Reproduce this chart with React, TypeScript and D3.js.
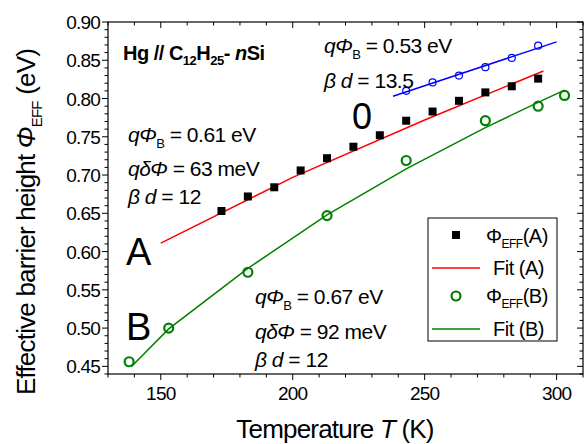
import * as d3 from "d3";

const tA = [173, 183, 193, 203, 213, 223, 233, 243, 253, 263, 273, 283, 293];
const phiA = [0.653, 0.672, 0.684, 0.706, 0.722, 0.737, 0.752, 0.771, 0.783, 0.797, 0.808, 0.816, 0.826];
const fitAT = [150, 200, 250, 295];
const fitA = [0.611, 0.697, 0.772, 0.836];
const tB = [138, 153, 183, 213, 243, 273, 293, 303];
const phiB = [0.456, 0.5, 0.573, 0.647, 0.719, 0.771, 0.79, 0.804];
const fitBT = [139, 153, 183, 213, 243, 273, 293, 303];
const fitB = [0.45, 0.499, 0.578, 0.648, 0.708, 0.762, 0.795, 0.811];
const tO = [243, 253, 263, 273, 283, 293];
const phiO = [0.81, 0.821, 0.83, 0.841, 0.853, 0.869];
const fitOT = [238, 300];
const fitO = [0.803, 0.874];
const xTicks = [150, 200, 250, 300];
const yTicks = [0.45, 0.5, 0.55, 0.6, 0.65, 0.7, 0.75, 0.8, 0.85, 0.9];

const L = 108, R = 583, T = 22, B = 374;
const x = d3.scaleLinear().domain([130, 310]).range([L, R]);
const y = d3.scaleLinear().domain([0.44, 0.9]).range([B, T]);
const line = d3.line<[number, number]>().x((d) => x(d[0])).y((d) => y(d[1]));
const zip = (a: number[], b: number[]) => a.map((v, i) => [v, b[i]] as [number, number]);
const F = "Arial, 'Liberation Sans', sans-serif";

function Phi({ x0, y0, rest, sub = "B", delta = false }: any) {
  return (
    <text x={x0} y={y0} fontSize={21} fontFamily={F} letterSpacing={-0.5}>
      <tspan fontStyle="italic">{delta ? "qδΦ" : "qΦ"}</tspan>
      {!delta && <tspan fontSize={13} dy={6}>{sub}</tspan>}
      <tspan dy={delta ? 0 : -6}>{rest}</tspan>
    </text>
  );
}
function Bd({ x0, y0, v }: any) {
  return (
    <text x={x0} y={y0} fontSize={21} fontFamily={F} letterSpacing={-0.5}>
      <tspan fontStyle="italic">β d</tspan> = {v}
    </text>
  );
}

export default function App() {
  const minorX = d3.range(130, 311, 10);
  const minorY = d3.range(44, 91).map((v) => v / 100);
  return (
    <svg width={584} height={444} style={{ position: "absolute", left: 0, top: 0 }}>
      <rect x={L} y={T} width={R - L} height={B - T} fill="none" stroke="#000" strokeWidth={1.2} />
      {minorX.map((v) => {
        const major = v % 50 === 0;
        const len = major ? 6 : 3.5;
        return (
          <g key={v}>
            <line x1={x(v)} x2={x(v)} y1={B} y2={B + len} stroke="#000" />
            <line x1={x(v)} x2={x(v)} y1={T} y2={T + len} stroke="#000" />
          </g>
        );
      })}
      {minorY.map((v, i) => {
        const major = Math.round(v * 100) % 5 === 0;
        const len = major ? 6 : 3.5;
        return (
          <g key={i}>
            <line x1={L - len} x2={L} y1={y(v)} y2={y(v)} stroke="#000" />
            <line x1={R - len} x2={R} y1={y(v)} y2={y(v)} stroke="#000" />
          </g>
        );
      })}
      {xTicks.map((v) => (
        <text key={v} x={x(v)} y={B + 26} textAnchor="middle" fontSize={19} letterSpacing={-0.8} fontFamily={F}>{v}</text>
      ))}
      {yTicks.map((v) => (
        <text key={v} x={L - 8} y={y(v) + 7} textAnchor="end" fontSize={19} letterSpacing={-0.8} fontFamily={F}>{v.toFixed(2)}</text>
      ))}
      <text x={335} y={438} textAnchor="middle" fontSize={26} letterSpacing={-0.8} fontFamily={F}>
        Temperature <tspan fontStyle="italic">T</tspan>  (K)
      </text>
      <text transform="translate(35,222) rotate(-90)" textAnchor="middle" fontSize={26} letterSpacing={-0.8} fontFamily={F}>
        Effective barrier height <tspan fontStyle="italic">Φ</tspan>
        <tspan fontSize={15} dy={7}>EFF</tspan>
        <tspan dy={-7}> (eV)</tspan>
      </text>

      <path d={line(zip(fitAT, fitA)) as string} fill="none" stroke="#ff0000" strokeWidth={1.5} />
      <path d={line(zip(fitBT, fitB)) as string} fill="none" stroke="#008000" strokeWidth={1.5} />
      <path d={line(zip(fitOT, fitO)) as string} fill="none" stroke="#0000ff" strokeWidth={1.5} />
      {zip(tA, phiA).map((d, i) => (
        <rect key={i} x={x(d[0]) - 4} y={y(d[1]) - 4} width={8} height={8} fill="#000" />
      ))}
      {zip(tB, phiB).map((d, i) => (
        <circle key={i} cx={x(d[0])} cy={y(d[1])} r={4.5} fill="none" stroke="#008000" strokeWidth={2.2} />
      ))}
      {zip(tO, phiO).map((d, i) => (
        <circle key={i} cx={x(d[0])} cy={y(d[1])} r={3.5} fill="none" stroke="#0000ff" strokeWidth={1.2} />
      ))}

      <text x={123} y={60} fontSize={20} fontWeight="bold" letterSpacing={-0.5} fontFamily={F}>
        Hg // C<tspan fontSize={13} dy={5}>12</tspan><tspan dy={-5}>H</tspan>
        <tspan fontSize={13} dy={5}>25</tspan><tspan dy={-5}>- </tspan>
        <tspan fontStyle="italic">n</tspan>Si
      </text>
      <Phi x0={324} y0={53} rest=" = 0.53 eV" />
      <Bd x0={324} y0={88} v="13.5" />
      <text x={352} y={129} fontSize={36} fontFamily={F}>0</text>
      <Phi x0={128} y0={142} rest=" = 0.61 eV" />
      <Phi x0={128} y0={176} rest=" =  63 meV" delta />
      <Bd x0={128} y0={204} v="12" />
      <text x={126} y={265} fontSize={38} fontFamily={F}>A</text>
      <text x={126} y={340} fontSize={38} fontFamily={F}>B</text>
      <Phi x0={255} y0={304} rest=" = 0.67 eV" />
      <Phi x0={255} y0={339} rest=" =  92 meV" delta />
      <Bd x0={255} y0={367} v="12" />

      <g fontFamily={F} fontSize={20} letterSpacing={-0.5}>
        <rect x={428} y={218} width={129} height={123} fill="#fff" stroke="#000" />
        <rect x={452} y={231} width={8} height={8} fill="#000" />
        <text x={486} y={243}>Φ<tspan fontSize={12} dy={5}>EFF</tspan><tspan dy={-5}>(A)</tspan></text>
        <line x1={432} x2={480} y1={268} y2={268} stroke="#ff0000" strokeWidth={1.5} />
        <text x={493} y={275}>Fit (A)</text>
        <circle cx={456} cy={296} r={4.5} fill="none" stroke="#008000" strokeWidth={2.2} />
        <text x={486} y={303}>Φ<tspan fontSize={12} dy={5}>EFF</tspan><tspan dy={-5}>(B)</tspan></text>
        <line x1={432} x2={480} y1={329} y2={329} stroke="#008000" strokeWidth={1.5} />
        <text x={493} y={336}>Fit (B)</text>
      </g>
    </svg>
  );
}
